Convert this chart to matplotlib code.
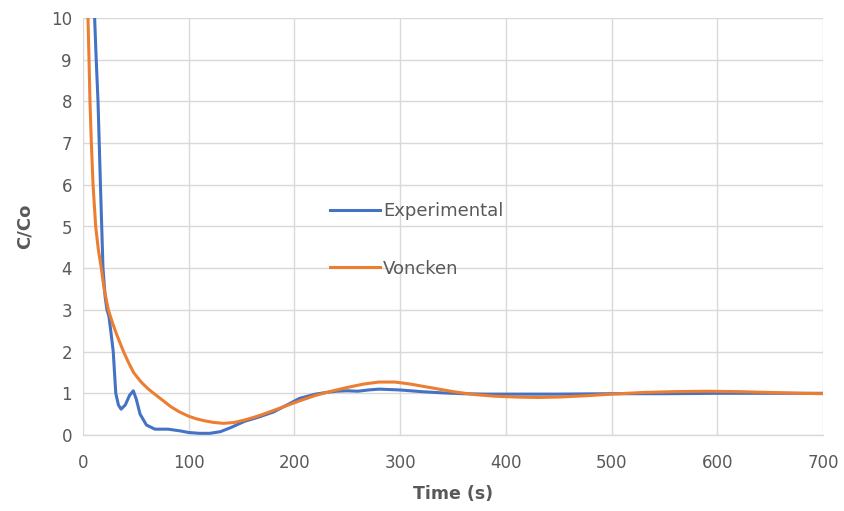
import matplotlib
matplotlib.use("Agg")
import matplotlib.pyplot as plt

# Measured concentration ratio
exp_time = [10, 11, 12.5, 14.2, 16.5, 18.9, 21, 22.7, 24.5, 26.5, 28.6, 31, 33.5, 36, 40, 44,
            47.6, 50.5, 54, 60, 68, 80.5, 91.5, 100, 110, 120, 130, 140, 153, 165, 180,
            190, 205, 220, 230, 240, 250, 260, 270, 280, 290, 300, 320, 340, 360, 380,
            400, 450, 500, 550, 600, 650, 700]
exp_ratio = [11.0, 10.0, 9.0, 8.0, 6.0, 4.0, 3.3, 3.0, 2.85, 2.45, 2.0, 1.0, 0.72, 0.62, 0.72, 0.95,
             1.06, 0.85, 0.5, 0.24, 0.14, 0.14, 0.1, 0.06, 0.04, 0.04, 0.08, 0.18, 0.33, 0.42, 0.55,
             0.68, 0.88, 0.98, 1.02, 1.05, 1.06, 1.05, 1.08, 1.10, 1.09, 1.08, 1.04, 1.01, 0.99, 0.98,
             0.98, 0.98, 0.99, 0.99, 1.0, 1.0, 1.0]

# Voncken model prediction
model_time = [4, 4.7, 5.7, 6.6, 7.9, 9.5, 12, 14.5, 17.3, 20, 24, 28, 32, 38.3, 43, 47.8, 55, 61,
              66.8, 75, 83, 91.5, 100, 107, 115, 124, 133, 143, 153, 165, 175, 190, 205, 220, 235, 250,
              265, 280, 295, 310, 330, 350, 370, 390, 410, 430, 450, 475, 500, 530, 560, 590, 620,
              650, 680, 700]
model_ratio = [12.0, 10.0, 9.0, 8.0, 7.0, 6.0, 5.0, 4.45, 4.0, 3.5, 3.0, 2.68, 2.4, 2.0, 1.74, 1.5, 1.27, 1.12,
               1.0, 0.84, 0.68, 0.55, 0.45, 0.39, 0.34, 0.3, 0.28, 0.3, 0.36, 0.45, 0.54, 0.68, 0.82, 0.95, 1.05, 1.14,
               1.22, 1.27, 1.27, 1.22, 1.13, 1.04, 0.97, 0.93, 0.91, 0.90, 0.91, 0.94, 0.98, 1.02, 1.04, 1.05, 1.04,
               1.02, 1.0, 0.99]

x_ticks = [0, 100, 200, 300, 400, 500, 600, 700]
y_ticks = list(range(0, 11))

fig = plt.figure(figsize=(8.44, 5.11), dpi=100)
ax = fig.add_axes([83 / 844, 76 / 511, 740 / 844, 417 / 511])

ax.plot(exp_time, exp_ratio, color="#4472C4", lw=2.2, label="Experimental", zorder=3)
ax.plot(model_time, model_ratio, color="#ED7D31", lw=2.2, label="Voncken", zorder=3)

ax.set_xlim(0, 700)
ax.set_ylim(0, 10)
ax.set_xticks(x_ticks)
ax.set_yticks(y_ticks)
ax.grid(True, color="#D9D9D9", lw=1.0)
ax.set_axisbelow(True)
for side in ("top", "right", "left"):
    ax.spines[side].set_visible(False)
ax.spines["bottom"].set_color("#D9D9D9")
ax.spines["bottom"].set_linewidth(1.0)
ax.tick_params(length=0, labelsize=12, labelcolor="#595959", pad=8)
ax.tick_params(axis="x", pad=14)

ax.set_xlabel("Time (s)", fontsize=12.5, fontweight="bold", color="#595959", labelpad=9)
ax.set_ylabel("C/Co", fontsize=13, fontweight="bold", color="#595959", labelpad=12)

leg = ax.legend(loc="upper left", bbox_to_anchor=(0.334, 0.559), frameon=False,
                borderaxespad=0, borderpad=0,
                fontsize=13, handlelength=2.77, handletextpad=0.17, labelspacing=2.2)
for t in leg.get_texts():
    t.set_color("#595959")

fig.savefig("out.png", dpi=100)
